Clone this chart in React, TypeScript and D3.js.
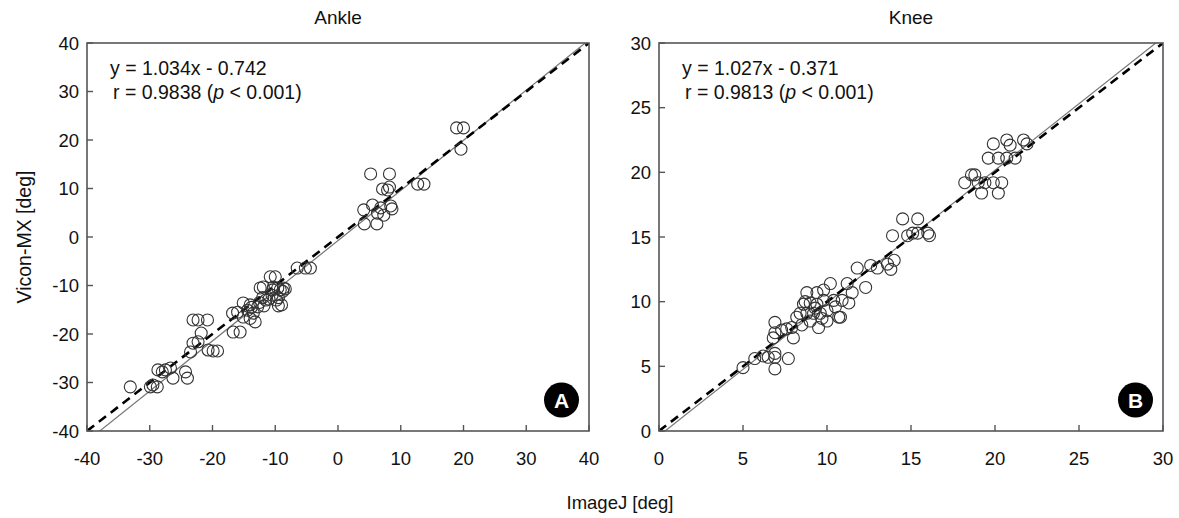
import React from 'react';
import * as d3 from 'd3';

// Ankle: [ImageJ, Vicon-MX]
const anklePoints: [number, number][] = [
  [-33.1, -30.9], [-29.9, -30.9], [-28.8, -30.9], [-29.5, -30.5],
  [-28.7, -27.4], [-28.0, -27.8], [-27.5, -27.4], [-26.7, -27.0], [-26.3, -29.1],
  [-24.3, -27.8], [-24.0, -29.1],
  [-23.5, -23.7], [-23.1, -21.9], [-22.3, -21.6], [-21.8, -19.8],
  [-20.7, -23.3], [-19.9, -23.5], [-19.2, -23.5],
  [-23.1, -17.1], [-22.3, -17.1], [-20.8, -17.1],
  [-16.8, -15.7], [-16.7, -19.6], [-15.6, -19.6], [-16.0, -15.5], [-15.1, -13.6],
  [-14.4, -15.1], [-14.0, -14.0], [-13.5, -15.7], [-12.8, -14.4], [-13.2, -17.5],
  [-15.1, -16.5], [-14.0, -16.8], [-13.8, -14.5], [-12.5, -13.5], [-11.8, -14.2],
  [-12.4, -10.5], [-11.9, -10.3], [-10.3, -10.3], [-8.7, -10.5], [-10.4, -10.9],
  [-9.2, -10.9], [-9.6, -10.5], [-8.4, -10.7], [-10.8, -8.2], [-10.0, -8.2],
  [-10.5, -12.0], [-11.5, -13.0], [-9.5, -12.5], [-12.0, -12.5], [-9.0, -14.0],
  [-11.0, -12.8], [-9.8, -13.0], [-8.8, -11.2], [-9.5, -14.2],
  [-6.5, -6.4], [-5.2, -6.4], [-4.4, -6.4],
  [4.2, 2.7], [6.2, 2.7], [4.1, 5.6], [5.5, 6.6], [6.8, 6.0], [8.4, 6.4],
  [6.3, 4.9], [7.3, 4.5], [8.6, 5.8],
  [7.1, 9.9], [7.9, 9.7], [8.2, 10.3], [5.2, 13.0], [8.2, 13.0], [12.7, 10.9], [13.7, 10.9],
  [18.9, 22.5], [20.0, 22.5], [19.6, 18.1],
];

// Knee: [ImageJ, Vicon-MX]
const kneePoints: [number, number][] = [
  [5.0, 4.9], [5.7, 5.6], [6.2, 5.8], [6.5, 5.7], [6.9, 4.8], [6.9, 5.7], [6.9, 6.0],
  [7.7, 5.6], [6.8, 7.2], [6.9, 7.6], [6.9, 8.4], [7.3, 7.8], [7.6, 7.9], [8.0, 7.2],
  [7.9, 8.0], [8.4, 9.1], [8.8, 9.1], [9.2, 9.1], [9.6, 9.1], [10.0, 8.5], [10.7, 8.8],
  [10.8, 8.8], [8.8, 10.7], [9.4, 10.7], [9.8, 10.9], [10.2, 11.4], [8.6, 9.8], [9.0, 9.9],
  [9.4, 9.8], [9.8, 10.1], [10.4, 10.1], [10.9, 10.1], [11.3, 9.9], [11.2, 11.4],
  [11.5, 10.7], [12.3, 11.1], [11.8, 12.6], [12.6, 12.8], [13.0, 12.6], [13.6, 12.9],
  [14.0, 13.2], [13.8, 12.5],
  [8.5, 8.2], [9.0, 8.5], [9.5, 8.0], [9.3, 9.5], [10.0, 9.3], [8.2, 8.8], [9.7, 8.7],
  [8.7, 10.0], [10.5, 9.6],
  [13.9, 15.1], [14.5, 16.4], [15.4, 16.4], [14.8, 15.1], [15.1, 15.3], [15.4, 15.3],
  [16.0, 15.3], [16.1, 15.1],
  [18.2, 19.2], [18.6, 19.8], [18.8, 19.8], [19.0, 19.2], [19.4, 19.2], [19.9, 19.2],
  [20.4, 19.2], [19.2, 18.4], [20.2, 18.4],
  [19.6, 21.1], [20.2, 21.1], [20.7, 21.1], [21.2, 21.1],
  [19.9, 22.2], [20.7, 22.5], [20.9, 22.1], [21.7, 22.5], [21.9, 22.2],
];

const ankleTicks = [-40, -30, -20, -10, 0, 10, 20, 30, 40];
const kneeTicks = [0, 5, 10, 15, 20, 25, 30];

const panels = [
  {
    id: 'A', title: 'Ankle', points: anklePoints, domain: [-40, 40], ticks: ankleTicks,
    slope: 1.034, intercept: -0.742, eq: 'y = 1.034x - 0.742', r: 'r = 0.9838 (',
    left: 87, right: 589,
  },
  {
    id: 'B', title: 'Knee', points: kneePoints, domain: [0, 30], ticks: kneeTicks,
    slope: 1.027, intercept: -0.371, eq: 'y = 1.027x - 0.371', r: 'r = 0.9813 (',
    left: 659, right: 1163,
  },
];

const TOP = 43;
const BOTTOM = 431;
const FONT = '"Liberation Sans", Arial, sans-serif';
const FS = 18.5;
const NOTE_FS = 19.5;
const AXIS = '#555';

function Panel({ p }: { p: typeof panels[number] }) {
  const x = d3.scaleLinear().domain(p.domain).range([p.left, p.right]);
  const y = d3.scaleLinear().domain(p.domain).range([BOTTOM, TOP]);
  const [d0, d1] = p.domain;
  const line = d3.line<number>().x(v => x(v)).y(v => y(p.slope * v + p.intercept));
  const clipId = `clip-${p.id}`;
  return (
    <g fontFamily={FONT} fill="#111">
      <defs>
        <clipPath id={clipId}>
          <rect x={p.left} y={TOP} width={p.right - p.left} height={BOTTOM - TOP} />
        </clipPath>
      </defs>
      <text x={(p.left + p.right) / 2} y={24} textAnchor="middle" fontSize={19}>{p.title}</text>
      <g clipPath={`url(#${clipId})`}>
        <path d={line([d0, d1]) || ''} stroke="#777" strokeWidth={1.2} fill="none" />
        <line x1={x(d0)} y1={y(d0)} x2={x(d1)} y2={y(d1)} stroke="#000" strokeWidth={2.6} strokeDasharray="9,6" />
        {p.points.map((pt, i) => (
          <circle key={i} cx={x(pt[0])} cy={y(pt[1])} r={6} fill="none" stroke="#333" strokeWidth={1.1} />
        ))}
      </g>
      <rect x={p.left} y={TOP} width={p.right - p.left} height={BOTTOM - TOP} fill="none" stroke={AXIS} strokeWidth={1.6} />
      {p.ticks.map(t => (
        <g key={t}>
          <line x1={p.left} x2={p.left + 6} y1={y(t)} y2={y(t)} stroke={AXIS} strokeWidth={1.4} />
          <text x={p.left - 8} y={y(t) + 6.5} textAnchor="end" fontSize={FS}>{t}</text>
          <line x1={x(t)} x2={x(t)} y1={BOTTOM} y2={BOTTOM - 6} stroke={AXIS} strokeWidth={1.4} />
          <text x={x(t)} y={BOTTOM + 34} textAnchor="middle" fontSize={FS}>{t}</text>
        </g>
      ))}
      <text x={p.left + 23} y={75} fontSize={NOTE_FS}>{p.eq}</text>
      <text x={p.left + 26} y={99} fontSize={NOTE_FS}>
        {p.r}<tspan fontStyle="italic">p</tspan>{' < 0.001)'}
      </text>
      <circle cx={p.right - 27.5} cy={BOTTOM - 31} r={17.5} fill="#000" />
      <text x={p.right - 27.5} y={BOTTOM - 23.5} textAnchor="middle" fontSize={21} fontWeight="bold" fill="#fff">{p.id}</text>
    </g>
  );
}

export default function App() {
  return (
    <svg width={1179} height={518} style={{ position: 'absolute', left: 0, top: 0, background: '#fff' }}>
      {panels.map(p => <Panel key={p.id} p={p} />)}
      <text x={620} y={509} textAnchor="middle" fontSize={FS} fontFamily={FONT} fill="#111">ImageJ [deg]</text>
      <text transform="translate(31,237) rotate(-90)" textAnchor="middle" fontSize={19.5} fontFamily={FONT} fill="#111">Vicon-MX [deg]</text>
    </svg>
  );
}
